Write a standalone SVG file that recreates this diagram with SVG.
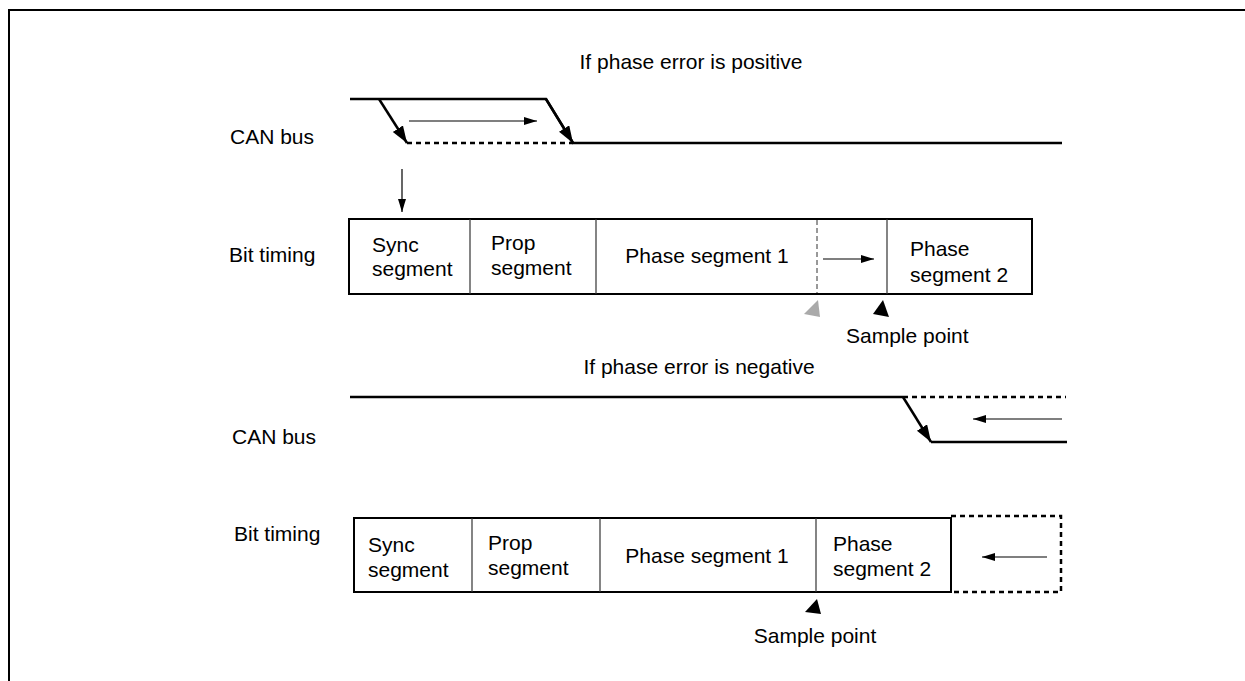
<svg xmlns="http://www.w3.org/2000/svg" width="1245" height="681" viewBox="0 0 1245 681">
<style>
text{font-family:"Liberation Sans",Arial,sans-serif;font-size:21px;fill:#000}
.mid{text-anchor:middle}
.bus{stroke:#000;stroke-width:2.5;fill:none}
.busd{stroke:#000;stroke-width:2.5;fill:none;stroke-dasharray:5,4}
.thin{stroke:#000;stroke-width:1.2;fill:none}
.box{stroke:#000;stroke-width:2;fill:#fff}
.div{stroke:#333;stroke-width:1.2}
</style>
<defs>
<marker id="big" markerUnits="userSpaceOnUse" markerWidth="20" markerHeight="14" refX="17" refY="6" orient="auto"><path d="M0,0 L17,6 L0,12 Z" fill="#000"/></marker>
<marker id="sm" markerUnits="userSpaceOnUse" markerWidth="16" markerHeight="10" refX="13" refY="4" orient="auto"><path d="M0,0 L13,4 L0,8 Z" fill="#000"/></marker>
</defs>
<rect width="1245" height="681" fill="#fff"/>
<rect x="9" y="10" width="1260" height="700" fill="none" stroke="#000" stroke-width="2"/>

<g id="labels">
<text class="mid" x="691" y="69">If phase error is positive</text>
<text x="230" y="144">CAN bus</text>
<text x="229" y="262">Bit timing</text>
<text class="mid" x="699" y="374">If phase error is negative</text>
<text x="232" y="444">CAN bus</text>
<text x="234" y="541">Bit timing</text>
</g>

<g id="bus-upper">
<polyline class="bus" points="350,99 546,99 573,143 1062,143"/>
<line class="busd" x1="407" y1="143" x2="573" y2="143"/>
</g>

<g id="bit-timing-upper">
<rect class="box" x="349" y="219" width="683" height="75"/>
<line class="div" x1="470" y1="219" x2="470" y2="294"/>
<line class="div" x1="596" y1="219" x2="596" y2="294"/>
<line class="div" x1="887" y1="219" x2="887" y2="294"/>
<line x1="817" y1="220" x2="817" y2="293" stroke="#333" stroke-width="1" stroke-dasharray="5,3"/>
<text x="372" y="252">Sync</text>
<text x="372" y="276">segment</text>
<text x="491" y="250">Prop</text>
<text x="491" y="275">segment</text>
<text class="mid" x="707" y="263">Phase segment 1</text>
<text x="910" y="256">Phase</text>
<text x="910" y="282">segment 2</text>
</g>

<g id="sample-upper">
<polygon points="818,300 804,314 820,317" fill="#aaa"/>
<polygon points="883,300 873,314 889,317" fill="#000"/>
<text x="846" y="343">Sample point</text>
</g>

<g id="bus-lower">
<polyline class="bus" points="350,397 903,397"/>
<line class="busd" x1="903" y1="397" x2="1066" y2="397"/>
<polyline class="bus" points="931,442 1067,442"/>
</g>

<g id="bit-timing-lower">
<rect class="box" x="354" y="518" width="597" height="74"/>
<line class="div" x1="472" y1="518" x2="472" y2="592"/>
<line class="div" x1="600" y1="518" x2="600" y2="592"/>
<line class="div" x1="816" y1="518" x2="816" y2="592"/>
<polyline class="busd" points="951,516 1061,516 1061,592 951,592"/>
<text x="368" y="552">Sync</text>
<text x="368" y="577">segment</text>
<text x="488" y="550">Prop</text>
<text x="488" y="575">segment</text>
<text class="mid" x="707" y="563">Phase segment 1</text>
<text x="833" y="551">Phase</text>
<text x="833" y="576">segment 2</text>
</g>

<g id="sample-lower">
<polygon points="817,599 805,612 821,614" fill="#000"/>
<text class="mid" x="815" y="643">Sample point</text>
</g>

<g id="connectors">
<line x1="379" y1="99" x2="407" y2="143" stroke="#000" stroke-width="2.5" marker-end="url(#big)"/>
<line x1="546" y1="99" x2="573" y2="143" stroke="#000" stroke-width="2.5" marker-end="url(#big)"/>
<line class="thin" x1="409" y1="121" x2="537" y2="121" marker-end="url(#sm)"/>
<line class="thin" x1="402" y1="169" x2="402" y2="212" marker-end="url(#sm)"/>
<line class="thin" x1="823" y1="259" x2="874" y2="259" marker-end="url(#sm)"/>
<line x1="903" y1="397" x2="931" y2="442" stroke="#000" stroke-width="2.5" marker-end="url(#big)"/>
<line x1="1062" y1="419" x2="973" y2="419" stroke="#555" stroke-width="1.5" marker-end="url(#sm)"/>
<line class="thin" x1="1047" y1="557" x2="982" y2="557" marker-end="url(#sm)"/>
</g>
</svg>
